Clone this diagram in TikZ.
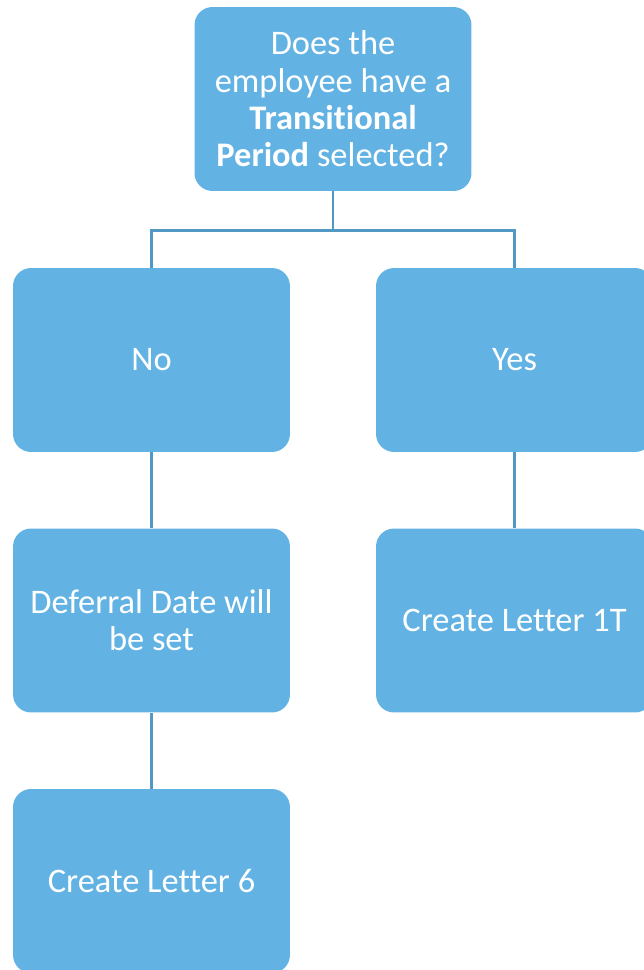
\documentclass[tikz,border=0pt]{standalone}
\usepackage{fontspec}
\setmainfont{Carlito}[Ligatures=NoCommon]
\usepackage{xcolor}
\usetikzlibrary{positioning,calc}
\definecolor{boxblue}{HTML}{62B3E3}
\definecolor{linkblue}{HTML}{5199C4}
\tikzset{
	every picture/.style={
		x=0.02cm,y=-0.02cm
}}
\tikzset{
	stepbox/.style={rectangle,
		fill=boxblue,
		text=white,
		rounded corners=0.36cm,
		minimum width=5.54cm,
		minimum height=3.68cm,
		align=center,
		font=\fontsize{19.6}{21.2}\selectfont},
	link/.style={draw=linkblue,line width=1.5pt}
}

\begin{document}
\begin{tikzpicture}
	\useasboundingbox (0,0) rectangle (643,970);
	\node (question) at (333,99) [stepbox] {Does the\\employee have a\\\textbf{Transitional}\\\textbf{Period} selected?};
	\node (no) at (151.5,360) [stepbox] {No};
	\node (yes) at (514.5,360) [stepbox] {Yes};
	\node (deferral) at (151.5,620.5) [stepbox] {Deferral Date will\\be set};
	\node (letter1t) at (514.5,620.5) [stepbox] {Create Letter 1T};
	\node (letter6) at (151.5,881) [stepbox] {Create Letter 6};
	\coordinate (split) at ($(question.south)+(0,39)$);
	\draw[link] (question.south) -- (split);
	\draw[link] (split) -| (no.north);
	\draw[link] (split) -| (yes.north);
	\draw[link] (no.south) -- (deferral.north);
	\draw[link] (yes.south) -- (letter1t.north);
	\draw[link] (deferral.south) -- (letter6.north);
\end{tikzpicture}
\end{document}
